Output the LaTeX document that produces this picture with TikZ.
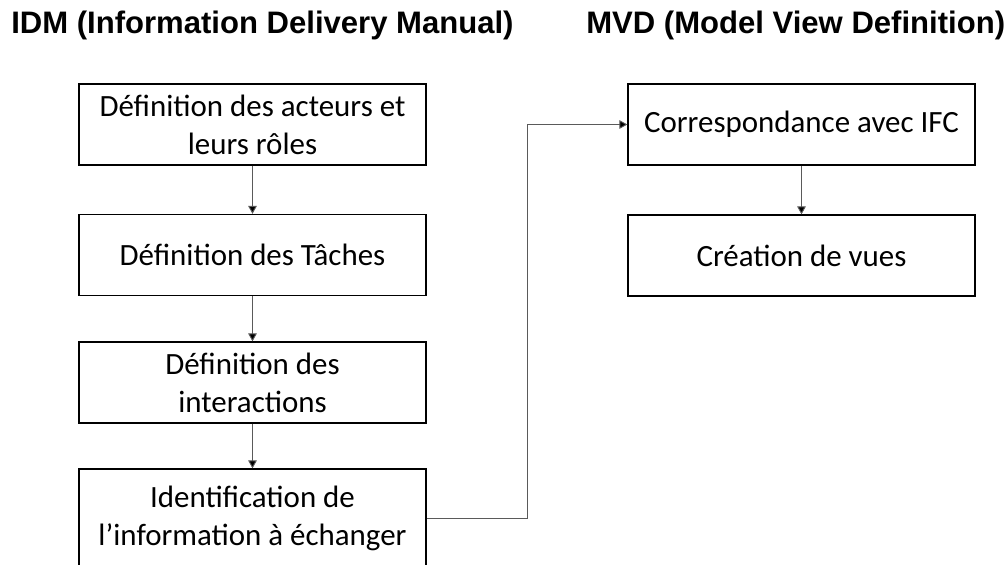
\documentclass[tikz,border=0pt]{standalone}
\usepackage{fontspec}
\usepackage{tikz}
\usetikzlibrary{arrows.meta}
\setmainfont{Carlito}
\newfontfamily\titlefont{Liberation Sans}
\definecolor{linegray}{RGB}{90,90,90}

\tikzset{
    stepbox/.style={draw=black, line width=1pt, fill=white, inner sep=0pt, align=center,
        minimum width=260.25pt, minimum height=60.75pt,
        font=\fontsize{23.2pt}{28.5pt}\selectfont},
    flow/.style={draw=linegray, line width=0.7pt, -{Triangle[length=6pt,width=6.5pt,fill=black]}},
    heading/.style={anchor=base west, inner sep=0pt, font=\titlefont\bfseries\fontsize{23.3pt}{26pt}\selectfont}
}

\begin{document}
\begin{tikzpicture}[x=0.75pt, y=-0.75pt]
        \useasboundingbox (0,0) rectangle (1006,564);

        % titles
        \node[heading] (idm) at (11, 33) {IDM (Information Delivery Manual)};
        \node[heading] (mvd) at (586, 33) {MVD (Model View Definition)};

        % IDM column
        \node[stepbox] (acteurs) at (252.5, 124.5) {Définition des acteurs et\\leurs rôles};
        \node[stepbox] (taches) at (252.5, 255) {Définition des Tâches};
        \node[stepbox] (interactions) at (252.5, 382.5) {Définition des\\interactions};
        \node[stepbox, minimum height=74.25pt] (ident) at (252.5, 518.5) {Identification de\\l’information à échanger};

        % MVD column
        \node[stepbox] (ifc) at (801.5, 124.5) {Correspondance avec IFC};
        \node[stepbox] (vues) at (801.5, 255.5) {Création de vues};

        \draw[flow] (acteurs) -- (taches);
        \draw[flow] (taches) -- (interactions);
        \draw[flow] (interactions) -- (ident);
        \draw[flow] (ident.east) -- ++(101, 0) |- (ifc.west);
        \draw[flow] (ifc) -- (vues);

\end{tikzpicture}
\end{document}
